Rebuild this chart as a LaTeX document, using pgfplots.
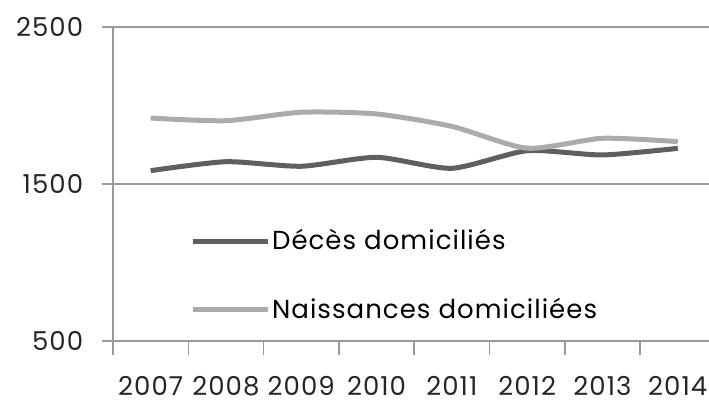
\documentclass[border=0pt]{standalone}
\usepackage{pgfplots}
\pgfplotsset{compat=1.18}
\usepackage{fontspec}
\setmainfont[LetterSpace=4]{Poppins}
\definecolor{darkl}{HTML}{5F5F5F}
\definecolor{lightl}{HTML}{ABABAB}
\definecolor{axc}{HTML}{9A9A9A}
\begin{document}
\begin{tikzpicture}
\fontsize{26}{30}\selectfont
\begin{axis}[
  scale only axis,
  at={(0pt,0pt)}, anchor=south west,
  width=596pt, height=314pt,
  xmin=-0.5, xmax=7.415,
  ymin=500, ymax=2500,
  axis x line=bottom, axis y line=left,
  axis line style={-, axc, line width=1.6pt},
  xtick={0,...,7},
  xticklabels={2007,2008,2009,2010,2011,2012,2013,2014},
  major x tick style={draw=none},
  minor xtick={-0.5,0.5,...,7.5},
  minor x tick style={axc, line width=1.6pt},
  minor tick length=14pt,
  ytick={500,1500,2500},
  major y tick style={axc, line width=1.6pt},
  major tick length=11pt,
  tick align=outside,
  ymajorgrids,
  grid style={axc, line width=1.6pt},
  /pgf/number format/assume math mode=true,
  /pgf/number format/1000 sep={},
  ticklabel style={font=\fontsize{26}{30}\selectfont, text=black!85},
  yticklabel style={xshift=-10pt},
  xticklabel style={yshift=-15pt},
  legend style={draw=none, fill=none, at={(0.129,0.362)}, anchor=north west,
    font=\fontsize{26}{30}\selectfont, row sep=40pt, inner sep=0pt,
    /tikz/every even column/.append style={column sep=0pt}},
  legend cell align=left,
  legend image code/.code={\draw[#1] (0pt,0pt) -- (75pt,0pt);},
  clip=false,
]
\addplot[darkl, line width=5pt, smooth, tension=0.4] coordinates {
(0,1585) (1,1642) (2,1613) (3,1670) (4,1600) (5,1712) (6,1685) (7,1727)};
\addlegendentry{Décès domiciliés}
\addplot[lightl, line width=5pt, smooth, tension=0.4] coordinates {
(0,1920) (1,1903) (2,1957) (3,1946) (4,1867) (5,1728) (6,1791) (7,1770)};
\addlegendentry{Naissances domiciliées}
\end{axis}
\pgfresetboundingbox
\path (-113pt,-62pt) rectangle (596pt,341pt);
\end{tikzpicture}
\end{document}
